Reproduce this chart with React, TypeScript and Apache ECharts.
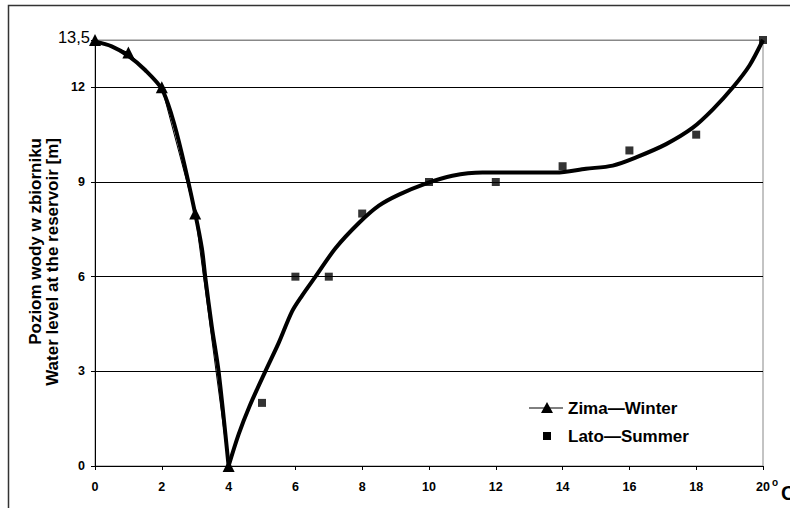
import React, { useEffect, useRef } from "react";
import * as echarts from "echarts";

const winterPoints: [number, number][] = [
  [0, 13.5], [1, 13.1], [2, 12], [3, 8], [4, 0],
];
const summerPoints: [number, number][] = [
  [5, 2], [6, 6], [7, 6], [8, 8], [10, 9], [12, 9], [14, 9.5], [16, 10], [18, 10.5], [20, 13.5],
];
const trendWinter: [number, number][] = [
  [0, 13.45], [0.5, 13.3], [1, 13.0], [1.5, 12.55], [2, 11.95], [2.3, 11.1], [2.6, 9.9],
  [3, 8.0], [3.2, 6.9], [3.3, 6.0], [3.5, 4.4], [3.7, 3.0], [4, 0],
];
const trendSummer: [number, number][] = [
  [4, 0], [4.3, 1.0], [4.63, 1.9], [5.1, 3.0], [5.5, 3.9], [5.9, 4.9], [6.2, 5.4], [6.6, 6.0],
  [7.2, 6.9], [7.9, 7.7], [8.5, 8.25], [9.1, 8.6], [9.9, 8.95], [10.7, 9.2], [11.6, 9.3],
  [12.5, 9.3], [13.8, 9.3], [14.7, 9.42], [15.5, 9.52], [16.2, 9.78], [17.1, 10.2],
  [17.9, 10.72], [18.5, 11.3], [19.1, 12.0], [19.6, 12.7], [20, 13.5],
];
const legendLabels = ["Zima\u2014Winter", "Lato\u2014Summer"];
const yTitle = ["Poziom wody w zbiorniku", "Water level at the reservoir [m]"];
const yTopLabel = "13,5";

const FONT = "'Liberation Sans', Arial, sans-serif";

export default function App() {
  const ref = useRef<HTMLDivElement>(null);
  useEffect(() => {
    if (!ref.current) return;
    const chart = echarts.init(ref.current, undefined, { renderer: "svg" });
    chart.setOption({
      animation: false,
      backgroundColor: "#fff",
      grid: { left: 95, right: 27, top: 40, bottom: 42, show: true, borderColor: "#888", borderWidth: 1 },
      xAxis: {
        type: "value", min: 0, max: 20, interval: 2,
        axisLine: { lineStyle: { color: "#000", width: 1 } },
        axisTick: { show: true, length: 4, lineStyle: { color: "#000" } },
        axisLabel: { color: "#000", fontWeight: "bold", fontSize: 12.5, fontFamily: FONT, margin: 14 },
        splitLine: { show: false },
      },
      yAxis: {
        type: "value", min: 0, max: 13.5, interval: 3,
        axisLine: { show: true, lineStyle: { color: "#000", width: 1 } },
        axisTick: { show: true, length: 4, lineStyle: { color: "#000" } },
        axisLabel: {
          color: "#000", fontWeight: "bold", fontSize: 12.5, fontFamily: FONT, margin: 10,
          formatter: (v: number) => (v === 13.5 ? "" : String(v)),
        },
        splitLine: { show: true, lineStyle: { color: ["#000", "#000", "#000", "#000", "#000", "#888"], width: 1 } },
      },
      series: [
        {
          type: "line", data: trendWinter, smooth: 0.3, symbol: "none",
          lineStyle: { color: "#000", width: 4 }, z: 2,
        },
        {
          type: "line", data: trendSummer, smooth: 0.3, symbol: "none",
          lineStyle: { color: "#000", width: 4 }, z: 2,
        },
        {
          name: "Zima", type: "line", data: winterPoints, symbol: "triangle", symbolSize: 12,
          lineStyle: { color: "#000", width: 1 }, itemStyle: { color: "#000" }, z: 3,
        },
        {
          name: "Lato", type: "scatter", data: summerPoints, symbol: "rect", symbolSize: 8,
          itemStyle: { color: "#000" }, z: 3,
        },
      ],
      graphic: [
        { type: "rect", shape: { x: 8.5, y: 5.5, width: 900, height: 900 }, style: { fill: "none", stroke: "#333", lineWidth: 1.5 }, silent: true },
        { type: "text", x: 90, y: 37, style: { text: yTopLabel, align: "right", verticalAlign: "middle", font: `16.5px ${FONT}`, fill: "#000" } },
        {
          type: "text", x: 35, y: 138, rotation: Math.PI / 2,
          style: { text: yTitle[0], align: "right", verticalAlign: "middle", font: `bold 17px ${FONT}`, fill: "#000" },
        },
        {
          type: "text", x: 52, y: 138, rotation: Math.PI / 2,
          style: { text: yTitle[1], align: "right", verticalAlign: "middle", font: `bold 17px ${FONT}`, fill: "#000" },
        },
        { type: "line", shape: { x1: 529, y1: 408, x2: 563, y2: 408 }, style: { stroke: "#000", lineWidth: 1 } },
        { type: "polygon", shape: { points: [[547, 402], [541, 413], [553, 413]] }, style: { fill: "#000" } },
        { type: "text", x: 568, y: 408, style: { text: legendLabels[0], verticalAlign: "middle", font: `bold 17px ${FONT}`, fill: "#000" } },
        { type: "rect", shape: { x: 543, y: 432, width: 8, height: 8 }, style: { fill: "#000" } },
        { type: "text", x: 568, y: 436, style: { text: legendLabels[1], verticalAlign: "middle", font: `bold 17px ${FONT}`, fill: "#000" } },
        { type: "text", x: 772, y: 477, style: { text: "o", font: `bold 10px ${FONT}`, fill: "#000" } },
        { type: "text", x: 781, y: 483, style: { text: "C", font: `bold 20px ${FONT}`, fill: "#000" } },
      ],
    });
    return () => chart.dispose();
  }, []);
  return <div ref={ref} style={{ position: "absolute", left: 0, top: 0, width: 790, height: 508 }} />;
}
